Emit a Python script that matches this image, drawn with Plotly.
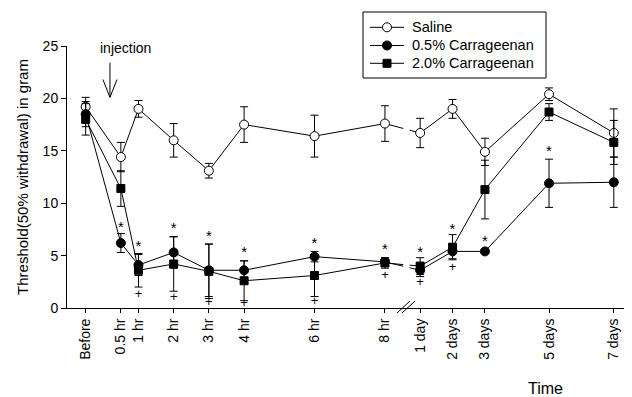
import plotly.graph_objects as go

# ---- data ----
time_labels = ["Before", "0.5 hr", "1 hr", "2 hr", "3 hr", "4 hr", "6 hr", "8 hr",
               "1 day", "2 days", "3 days", "5 days", "7 days"]
# axis position of each time point (hours scale before the break, compressed day scale after)
time_pos = [-0.5, 0.5, 1, 2, 3, 4, 6, 8, 9.0, 9.92, 10.84, 12.66, 14.5]

series_names = ["Saline", "0.5% Carrageenan", "2.0% Carrageenan"]

saline_mean = [19.2, 14.4, 19.0, 16.0, 13.1, 17.5, 16.4, 17.6, 16.7, 19.0, 14.9, 20.4, 16.7]
saline_err = [0.9, 1.4, 0.8, 1.6, 0.7, 1.7, 2.0, 1.7, 1.4, 0.9, 1.3, 0.6, 2.3]

c05_mean = [18.5, 6.2, 4.1, 5.3, 3.6, 3.6, 4.9, 4.4, 3.6, 5.4, 5.4, 11.9, 12.0]
c05_err = [1.2, 0.9, 1.0, 1.5, 2.5, 0.9, 0.5, 0.4, 0.6, 0.7, 0.2, 2.3, 2.4]

c20_mean = [18.0, 11.4, 3.6, 4.2, 3.5, 2.6, 3.1, 4.3, 4.0, 5.8, 11.3, 18.7, 15.8]
c20_err = [1.5, 1.7, 1.6, 2.6, 2.6, 1.9, 2.0, 0.5, 0.8, 1.2, 2.8, 0.8, 2.1]

# significance marks: (index of time point, y value)
star_idx = [1, 2, 3, 4, 5, 6, 7, 8, 9, 10, 11]
star_y = [7.6, 5.75, 7.55, 6.75, 5.25, 6.05, 5.5, 5.25, 7.4, 6.3, 14.85]
plus_idx = [2, 3, 4, 5, 6, 7, 8, 9]
plus_y = [1.3, 0.95, 0.5, 0.4, 0.55, 3.1, 2.4, 3.8]

FONT = "Liberation Sans, Arial, sans-serif"

# plot area geometry in page pixels (used for paper-referenced decorations)
PL, PR, PT, PB = 67, 630, 46, 308
def px2x(px):
    return (px - PL) / (PR - PL)
def px2y(py):
    return (PB - py) / (PB - PT)

fig = go.Figure()

def add_series(name, mean, err, symbol, fill):
    fig.add_trace(go.Scatter(
        x=time_pos, y=mean, name=name, mode="lines+markers",
        line=dict(color="black", width=1),
        marker=dict(symbol=symbol, size=9 if "circle" in symbol else 8,
                    color=fill, line=dict(color="black", width=1)),
        error_y=dict(type="data", array=err, visible=True, color="black",
                     thickness=1, width=4),
        cliponaxis=False, showlegend=False,
    ))

add_series(series_names[0], saline_mean, saline_err, "circle", "white")
add_series(series_names[1], c05_mean, c05_err, "circle", "black")
add_series(series_names[2], c20_mean, c20_err, "square", "black")

fig.add_trace(go.Scatter(
    x=[time_pos[i] for i in star_idx], y=star_y, mode="text",
    text=["*"] * len(star_idx), textfont=dict(family=FONT, size=15, color="black"),
    showlegend=False, cliponaxis=False, hoverinfo="skip"))
fig.add_trace(go.Scatter(
    x=[time_pos[i] for i in plus_idx], y=plus_y, mode="text",
    text=["+"] * len(plus_idx), textfont=dict(family=FONT, size=13, color="black"),
    showlegend=False, cliponaxis=False, hoverinfo="skip"))

shapes = [
    # gap in the lines at the axis break
    dict(type="rect", xref="x", yref="y", x0=8.52, x1=8.7, y0=2.0, y1=22,
         fillcolor="white", line=dict(width=0), layer="above"),
    # axis break slashes
    dict(type="line", xref="paper", yref="paper", x0=px2x(397), x1=px2x(410),
         y0=px2y(313), y1=px2y(301), line=dict(color="black", width=1)),
    dict(type="line", xref="paper", yref="paper", x0=px2x(402), x1=px2x(415),
         y0=px2y(313), y1=px2y(301), line=dict(color="black", width=1)),
    # injection arrow
    dict(type="path", xref="x", yref="y",
         path="M 0.19,23.4 L 0.19,20.1 M -0.01,21.8 L 0.19,20.1 L 0.39,21.8",
         line=dict(color="black", width=1)),
    # legend box
    dict(type="rect", xref="paper", yref="paper", x0=px2x(363), x1=px2x(546),
         y0=px2y(78), y1=px2y(12), line=dict(color="black", width=1),
         fillcolor="white", layer="above"),
]

annotations = [
    dict(text="injection", x=0.64, y=24.8, xref="x", yref="y", showarrow=False,
         font=dict(family=FONT, size=14)),
    dict(text="Time", x=px2x(545), y=px2y(388), xref="paper", yref="paper",
         xanchor="center", yanchor="middle", showarrow=False,
         font=dict(family=FONT, size=16)),
]

# manual legend entries
legend_rows = [27.3, 45.5, 63.3]
legend_styles = [("circle", "white"), ("circle", "black"), ("square", "black")]
for name, row, (sym, fill) in zip(series_names, legend_rows, legend_styles):
    shapes.append(dict(type="line", xref="paper", yref="paper", x0=px2x(370), x1=px2x(404),
                       y0=px2y(row), y1=px2y(row), line=dict(color="black", width=1),
                       layer="above"))
    r = 4.5 if sym == "circle" else 4
    shapes.append(dict(type="circle" if sym == "circle" else "rect",
                       xref="paper", yref="paper",
                       x0=px2x(387 - r), x1=px2x(387 + r), y0=px2y(row + r), y1=px2y(row - r),
                       fillcolor=fill, line=dict(color="black", width=1), layer="above"))
    annotations.append(dict(text=name, x=px2x(410), y=px2y(row), xref="paper", yref="paper",
                            xanchor="left", yanchor="middle", showarrow=False,
                            font=dict(family=FONT, size=14.5)))

# the page body adds an 8px offset, so the figure is 8px smaller on each side
fig.update_layout(
    width=624, height=389,
    margin=dict(l=PL - 8, r=632 - PR, t=PT - 8, b=389 - (PB - 8), autoexpand=False),
    paper_bgcolor="white", plot_bgcolor="white",
    font=dict(family=FONT, size=13, color="black"),
    shapes=shapes,
    annotations=annotations,
    showlegend=False,
)

fig.update_xaxes(
    range=[-1.03, 14.96], tickmode="array", tickvals=time_pos, ticktext=time_labels,
    tickangle=-90, ticks="outside", ticklen=4, tickcolor="black",
    showline=True, linecolor="black", linewidth=1, showgrid=False, zeroline=False,
    tickfont=dict(family=FONT, size=14), automargin=False,
)
fig.update_yaxes(
    range=[0, 25], tickvals=[0, 5, 10, 15, 20, 25],
    ticks="outside", ticklen=5, tickcolor="black",
    showline=True, linecolor="black", linewidth=1, showgrid=False, zeroline=False,
    tickfont=dict(family=FONT, size=14), automargin=False,
    title=dict(text="Threshold(50% withdrawal) in gram", font=dict(family=FONT, size=15),
               standoff=10),
)

fig.write_html("out.html")
